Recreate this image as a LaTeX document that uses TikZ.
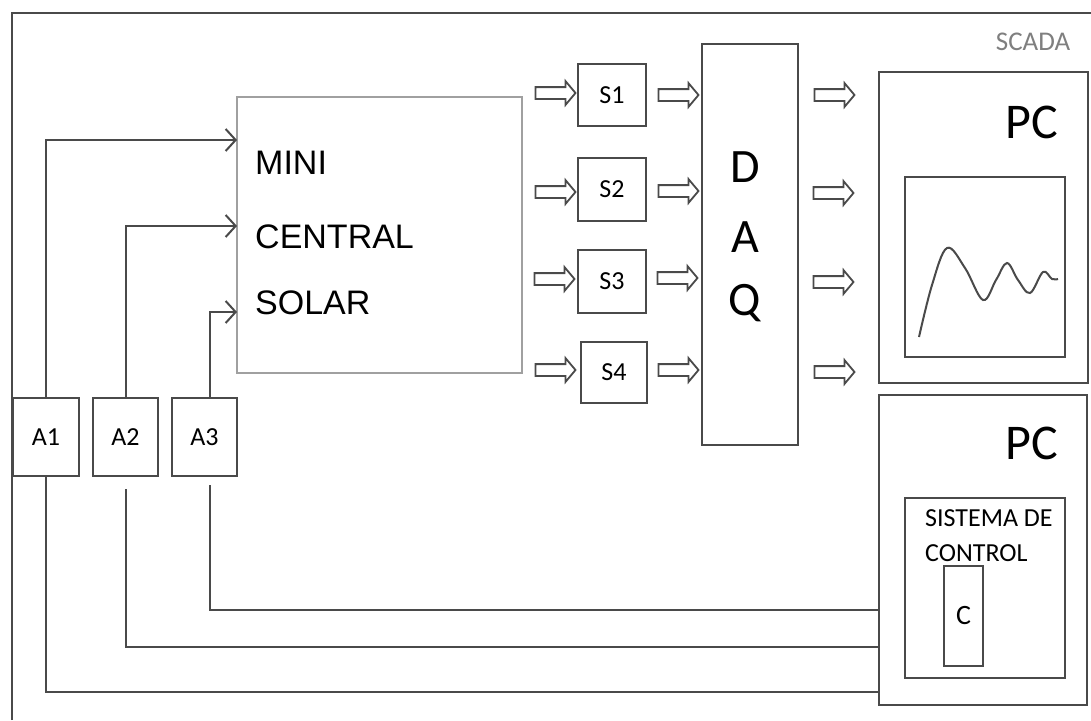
\documentclass[tikz,border=0pt]{standalone}
\usepackage{fontspec}
\setmainfont{Carlito}
\newfontfamily\arialf{Liberation Sans}
\usetikzlibrary{arrows.meta,shapes.arrows}
\definecolor{ln}{HTML}{4A4A4A}
\definecolor{lbox}{HTML}{A0A0A0}
\definecolor{scadagray}{HTML}{7F7F7F}
\tikzset{
  box/.style={draw=ln, line width=2.2pt, rectangle, inner sep=0pt},
  conn/.style={draw=ln, line width=2pt},
  connarr/.style={conn, -{Straight Barb[length=10pt,width=22pt,line width=2pt]}},
  barrow/.style={single arrow, draw=ln, line width=1.8pt, minimum height=40pt, inner sep=5pt, single arrow head extend=6pt, single arrow tip angle=100, shape border rotate=0},
  lbl/.style={inner sep=0pt, font=\fontsize{26}{26}\selectfont},
}
\begin{document}
\begin{tikzpicture}[x=1pt,y=-1pt]
\useasboundingbox (0,0) rectangle (1091,720);
\fill[white] (0,0) rectangle (1091,720);
% outer frame
\coordinate (fb) at (12,720);
\coordinate (ftl) at (12,13);
\coordinate (ftr) at (1091,13);
\draw[conn, line width=2.4pt] (fb) -- (ftl) -- (ftr);
\node[scadagray, font=\fontsize{27}{27}\selectfont, inner sep=0pt] (scada) at (1033,42) {SCADA};
% main box
\node[draw=lbox, line width=2pt, minimum width=285pt, minimum height=276pt, inner sep=0pt] (main) at (379.5,235) {};
\node[anchor=west, inner sep=0pt, font=\arialf\fontsize{34}{34}\selectfont] (t1) at (255,163) {MINI};
\node[anchor=west, inner sep=0pt, font=\arialf\fontsize{34}{34}\selectfont] (t2) at (255,237) {CENTRAL};
\node[anchor=west, inner sep=0pt, font=\arialf\fontsize{34}{34}\selectfont] (t3) at (255,303) {SOLAR};
% actuators
\node[box, lbl, minimum width=66pt, minimum height=78pt] (A1) at (46,437) {A1};
\node[box, lbl, minimum width=65pt, minimum height=78pt] (A2) at (125.5,437) {A2};
\node[box, lbl, minimum width=65pt, minimum height=78pt] (A3) at (204.5,437) {A3};
\coordinate (in1) at (237,140);
\coordinate (in2) at (237,226);
\coordinate (in3) at (237,312);
\draw[connarr] (A1.north) |- (in1);
\draw[connarr] (A2.north) |- (in2);
\draw[connarr] ([xshift=5pt]A3.north) |- (in3);
% sensors
\node[box, lbl, minimum width=68pt, minimum height=62pt] (S1) at (612,95) {S1};
\node[box, lbl, minimum width=68pt, minimum height=63pt] (S2) at (612,189.5) {S2};
\node[box, lbl, minimum width=68pt, minimum height=63pt] (S3) at (612,281.5) {S3};
\node[box, lbl, minimum width=66pt, minimum height=61pt] (S4) at (614,372.5) {S4};
% block arrows
\node[barrow] (la1) at (553,93) {};
\node[barrow] (la2) at (553,192) {};
\node[barrow] (la3) at (552,279) {};
\node[barrow] (la4) at (553,370) {};
\node[barrow] (ma1) at (676,95) {};
\node[barrow] (ma2) at (676,191) {};
\node[barrow] (ma3) at (675,278) {};
\node[barrow] (ma4) at (676,370) {};
\node[barrow] (ra1) at (832,95) {};
\node[barrow] (ra2) at (831,193) {};
\node[barrow] (ra3) at (831,282) {};
\node[barrow] (ra4) at (832,372) {};
% DAQ
\node[box, minimum width=96pt, minimum height=401pt] (daq) at (750,244.5) {};
\node[inner sep=0pt, font=\fontsize{48}{48}\selectfont] (dD) at (745,167) {D};
\node[inner sep=0pt, font=\fontsize{48}{48}\selectfont] (dA) at (745,237) {A};
\node[inner sep=0pt, font=\fontsize{48}{48}\selectfont] (dQ) at (745,303) {Q};
% PC 1
\node[box, minimum width=209pt, minimum height=311pt] (pc1) at (983.5,227.5) {};
\node[inner sep=0pt, font=\fontsize{50}{50}\selectfont] (pc1t) at (1032,122) {PC};
\node[box, minimum width=160pt, minimum height=180pt] (screen) at (985,267) {};
\draw[ln, line width=2pt] plot[smooth, tension=0.6] coordinates {(919,337) (932,285) (947,248) (965,268) (983,300) (996,280) (1007,263) (1018,280) (1030,293) (1043,272) (1052,279) (1058,279)};
% PC 2
\node[box, minimum width=208pt, minimum height=310pt] (pc2) at (983,550) {};
\node[inner sep=0pt, font=\fontsize{50}{50}\selectfont] (pc2t) at (1032,443) {PC};
\node[box, minimum width=160pt, minimum height=180pt] (ctrl) at (985,588) {};
\node[anchor=west, inner sep=0pt, font=\fontsize{26}{26}\selectfont] (ct1) at (925,518) {SISTEMA DE};
\node[anchor=west, inner sep=0pt, font=\fontsize{26}{26}\selectfont] (ct2) at (925,553) {CONTROL};
\node[box, minimum width=39pt, minimum height=100pt, font=\fontsize{28}{28}\selectfont] (C) at (963.5,616) {C};
% lines to PC2
\coordinate (o1) at (879,692);
\coordinate (o2) at (879,647);
\coordinate (o3) at (879,610);
\draw[conn] (A1.south) |- (o1);
\draw[conn] ([yshift=-12pt]A2.south) |- (o2);
\draw[conn] ([xshift=5pt,yshift=-8pt]A3.south) |- (o3);
\end{tikzpicture}
\end{document}
